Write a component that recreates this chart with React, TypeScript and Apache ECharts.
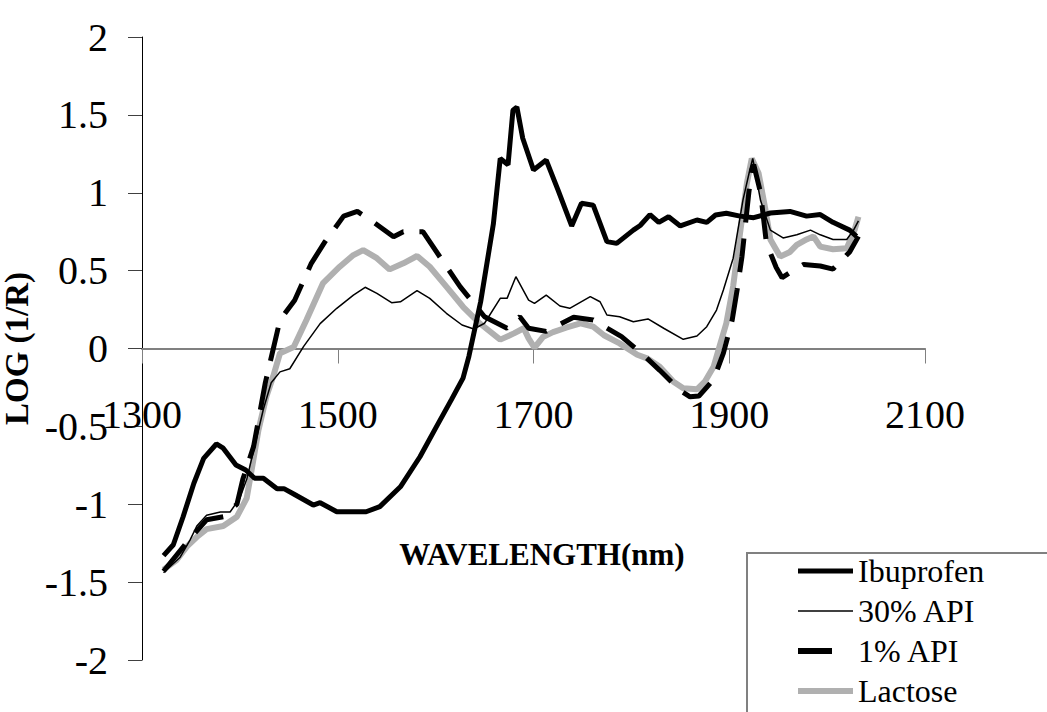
import React, { useEffect, useRef } from "react";
import * as echarts from "echarts";

// NIR spectra, LOG(1/R) against wavelength (nm)
const ibuprofen: [number, number][] = [
  [1322, -1.33], [1332, -1.26], [1342, -1.08], [1353, -0.865], [1363, -0.705],
  [1376, -0.613], [1383, -0.64], [1396, -0.748], [1406, -0.78], [1415, -0.833],
  [1424, -0.833], [1438, -0.9], [1445, -0.9], [1455, -0.934], [1475, -1.005],
  [1482, -0.99], [1499, -1.048], [1529, -1.048], [1543, -1.015], [1564, -0.888],
  [1584, -0.695], [1601, -0.5], [1616, -0.33], [1628, -0.19], [1634, -0.05],
  [1646, 0.3], [1659, 0.8], [1666, 1.22], [1674, 1.18], [1679, 1.53],
  [1683, 1.55], [1689, 1.35], [1700, 1.146], [1713, 1.21], [1725, 1.018],
  [1739, 0.787], [1749, 0.932], [1761, 0.92], [1775, 0.686], [1785, 0.675],
  [1802, 0.76], [1809, 0.79], [1819, 0.86], [1828, 0.81], [1838, 0.846],
  [1850, 0.787], [1867, 0.825], [1877, 0.81], [1886, 0.857], [1897, 0.868],
  [1911, 0.85], [1925, 0.84], [1942, 0.87], [1962, 0.88], [1979, 0.85],
  [1993, 0.86], [2006, 0.81], [2023, 0.76], [2030, 0.72],
];

const api30: [number, number][] = [
  [1322, -1.44], [1339, -1.34], [1349, -1.23], [1356, -1.14], [1366, -1.07],
  [1380, -1.05], [1390, -1.05], [1400, -0.96], [1407, -0.84], [1415, -0.63],
  [1424, -0.39], [1432, -0.22], [1441, -0.15], [1451, -0.13], [1465, 0.012],
  [1482, 0.16], [1499, 0.258], [1516, 0.343], [1528, 0.393], [1540, 0.354],
  [1555, 0.294], [1564, 0.3], [1581, 0.371], [1594, 0.322], [1611, 0.226],
  [1627, 0.151], [1639, 0.125], [1650, 0.162], [1666, 0.322], [1673, 0.322],
  [1682, 0.461], [1695, 0.311], [1701, 0.29], [1713, 0.343], [1727, 0.273],
  [1737, 0.258], [1758, 0.333], [1768, 0.3], [1775, 0.215], [1788, 0.204],
  [1802, 0.172], [1817, 0.19], [1833, 0.13], [1853, 0.059], [1867, 0.08],
  [1877, 0.14], [1887, 0.247], [1894, 0.375], [1904, 0.58], [1914, 0.953],
  [1921, 1.146], [1924, 1.22], [1932, 0.95], [1942, 0.76], [1955, 0.71],
  [1969, 0.73], [1983, 0.76], [1993, 0.73], [2006, 0.7], [2020, 0.7],
  [2027, 0.76], [2032, 0.82],
];

const api1: [number, number][] = [
  [1322, -1.43], [1349, -1.22], [1366, -1.1], [1383, -1.08], [1397, -1.0],
  [1403, -0.84], [1414, -0.63], [1419, -0.46], [1426, -0.22], [1441, 0.183],
  [1456, 0.31], [1473, 0.547], [1487, 0.686], [1506, 0.85], [1520, 0.88],
  [1536, 0.814], [1557, 0.718], [1567, 0.75], [1587, 0.75], [1610, 0.536],
  [1625, 0.397], [1650, 0.204], [1673, 0.13], [1686, 0.204], [1695, 0.13],
  [1713, 0.11], [1741, 0.2], [1761, 0.183], [1790, 0.076], [1812, -0.04],
  [1829, -0.14], [1850, -0.27], [1860, -0.31], [1869, -0.305], [1884, -0.2],
  [1894, -0.03], [1903, 0.183], [1908, 0.375], [1913, 0.59], [1920, 1.0],
  [1923, 1.146], [1925, 1.18], [1932, 1.0], [1938, 0.675], [1948, 0.52],
  [1954, 0.455], [1965, 0.5], [1976, 0.54], [1993, 0.53], [2006, 0.51],
  [2023, 0.62], [2032, 0.72],
];

const lactose: [number, number][] = [
  [1322, -1.42], [1335, -1.36], [1346, -1.27], [1356, -1.21], [1366, -1.16],
  [1383, -1.14], [1397, -1.08], [1407, -0.96], [1412, -0.78], [1419, -0.523],
  [1427, -0.31], [1434, -0.18], [1441, -0.03], [1455, 0.01], [1468, 0.183],
  [1485, 0.42], [1502, 0.525], [1516, 0.6], [1526, 0.632], [1540, 0.58],
  [1553, 0.508], [1567, 0.547], [1581, 0.594], [1594, 0.525], [1611, 0.397],
  [1628, 0.268], [1645, 0.162], [1666, 0.057], [1680, 0.097], [1690, 0.13],
  [1695, 0.065], [1701, 0.005], [1710, 0.076], [1720, 0.105], [1734, 0.135],
  [1748, 0.162], [1761, 0.14], [1772, 0.085], [1788, 0.033], [1806, -0.04],
  [1816, -0.063], [1829, -0.117], [1843, -0.213], [1853, -0.255], [1867, -0.262],
  [1875, -0.213], [1884, -0.117], [1890, 0.012], [1897, 0.162], [1904, 0.4],
  [1911, 0.74], [1918, 1.06], [1923, 1.22], [1930, 1.125], [1937, 0.89],
  [1942, 0.7], [1952, 0.59], [1962, 0.62], [1969, 0.665], [1979, 0.7],
  [1986, 0.72], [1993, 0.654], [2006, 0.637], [2020, 0.643], [2028, 0.76],
  [2032, 0.846],
];

const seriesNames = ["Ibuprofen", "30% API", "1% API", "Lactose"];

const serif = "'Liberation Serif', 'Times New Roman', serif";

// plot box
const GRID_TOP = 37;
const GRID_HEIGHT = 623;
const Y_MIN = -2;
const Y_MAX = 2;

export default function App() {
  const ref = useRef<HTMLDivElement>(null);

  useEffect(() => {
    if (!ref.current) return;
    const chart = echarts.init(ref.current, undefined, { renderer: "svg" });

    // the wavelength axis crosses at LOG(1/R) = 0: lift it from the grid bottom
    const zeroFromBottom = (GRID_HEIGHT * (0 - Y_MIN)) / (Y_MAX - Y_MIN);

    chart.setOption({
      animation: false,
      backgroundColor: "#ffffff",
      grid: {
        left: 142,
        top: GRID_TOP,
        width: 783,
        height: GRID_HEIGHT,
        containLabel: false,
        outerBoundsMode: "none",
      },
      xAxis: {
        type: "value",
        min: 1300,
        max: 2100,
        interval: 200,
        offset: -zeroFromBottom,
        name: "WAVELENGTH(nm)",
        nameLocation: "middle",
        nameGap: 190,
        nameTextStyle: {
          fontFamily: serif,
          fontWeight: "bold",
          fontSize: 31,
          color: "#000",
          padding: [0, 0, 0, 17],
        },
        axisLine: { onZero: false, lineStyle: { color: "#808080", width: 2 } },
        axisTick: { show: true, inside: false, length: 15, lineStyle: { color: "#808080", width: 1 } },
        axisLabel: {
          fontFamily: serif,
          fontSize: 40,
          color: "#000",
          margin: 46,
          showMinLabel: true,
          showMaxLabel: true,
          formatter: (v: number) => String(v),
        },
        splitLine: { show: false },
      },
      yAxis: {
        type: "value",
        min: Y_MIN,
        max: Y_MAX,
        interval: 0.5,
        name: "LOG (1/R)",
        nameLocation: "middle",
        nameGap: 88,
        nameTextStyle: {
          fontFamily: serif,
          fontWeight: "bold",
          fontSize: 33,
          color: "#000",
        },
        axisLine: { show: true, onZero: false, lineStyle: { color: "#000", width: 1 } },
        axisTick: { show: true, inside: false, length: 14, lineStyle: { color: "#404040", width: 1 } },
        axisLabel: {
          fontFamily: serif,
          fontSize: 40,
          color: "#000",
          margin: 34,
          showMinLabel: true,
          showMaxLabel: true,
          formatter: (v: number) => String(v),
        },
        splitLine: { show: false },
      },
      legend: {
        data: [
          { name: seriesNames[0], lineStyle: { width: 5, color: "#000" } },
          { name: seriesNames[1], lineStyle: { width: 1.5, color: "#000" } },
          { name: seriesNames[2], lineStyle: { width: 6, color: "#000", type: [34, 40] } },
          { name: seriesNames[3], lineStyle: { width: 6, color: "#b0b0b0" } },
        ],
        orient: "vertical",
        left: 795,
        top: 555,
        height: 170,
        padding: 0,
        itemWidth: 55,
        itemHeight: 32,
        itemGap: 8,
        itemStyle: { opacity: 0 },
        textStyle: { fontFamily: serif, fontSize: 32, color: "#000", lineHeight: 30 },
        z: 10,
      },
      graphic: [
        {
          type: "rect",
          z: 1,
          shape: { x: 747, y: 553, width: 400, height: 300 },
          style: { fill: "#ffffff", stroke: "#808080", lineWidth: 2 },
        },
      ],
      series: [
        {
          name: "Ibuprofen",
          type: "line",
          data: ibuprofen,
          symbol: "none",
          z: 6,
          lineStyle: { color: "#000", width: 5 },
          itemStyle: { color: "#000" },
        },
        {
          name: "30% API",
          type: "line",
          data: api30,
          symbol: "none",
          z: 5,
          lineStyle: { color: "#000", width: 1.5 },
          itemStyle: { color: "#000" },
        },
        {
          name: "1% API",
          type: "line",
          data: api1,
          symbol: "none",
          z: 4,
          lineStyle: { color: "#000", width: 5, type: [34, 16] },
          itemStyle: { color: "#000" },
        },
        {
          name: "Lactose",
          type: "line",
          data: lactose,
          symbol: "none",
          z: 3,
          lineStyle: { color: "#b0b0b0", width: 6 },
          itemStyle: { color: "#b0b0b0" },
        },
      ],
    });

    return () => chart.dispose();
  }, []);

  return (
    <div
      ref={ref}
      style={{ position: "absolute", left: 0, top: 0, width: 1047, height: 712 }}
    />
  );
}
